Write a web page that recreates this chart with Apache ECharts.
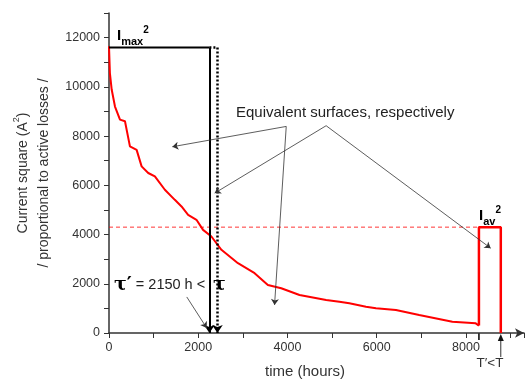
<!DOCTYPE html>
<html><head><meta charset="utf-8">
<script src="https://cdn.jsdelivr.net/npm/echarts@6/dist/echarts.min.js"></script>
<style>html,body{margin:0;padding:0;background:#fff}#c{width:527px;height:380px}</style>
</head><body><div id="c"></div>
<script>
// Load duration curve (time in hours, current squared in A^2)
const hours     = [0, 20, 60, 134, 246, 358, 469, 619, 731, 879, 1028, 1252, 1475, 1625, 1773, 1960, 2108, 2295, 2519, 2890, 3263, 3560, 3860, 4269, 4866, 5163, 5386, 5759, 5983, 6430, 6951, 7695, 8218, 8290];
const currentSq = [11650, 10560, 9890, 9200, 8670, 8600, 7580, 7440, 6770, 6500, 6360, 5820, 5410, 5140, 4800, 4600, 4190, 3920, 3380, 2835, 2430, 1953, 1820, 1546, 1342, 1273, 1208, 1070, 1004, 936, 732, 460, 393, 300];
const imax2 = 11600;     // I_max^2
const iav2 = 4300;       // I_av^2
const tauPrime = 2250;   // tau'
const tau = 2430;        // tau
const tPrime = 8290;     // T'
const tEnd = 8780;       // T
const xLabels = [0, 2000, 4000, 6000, 8000];
const yLabels = [0, 2000, 4000, 6000, 8000, 10000, 12000];
// annotation arrows [from, to] in data units
const arrowFrom = [[3972, 8392], [3972, 8392], [4866, 8421], [4866, 8421], [1743, 1464]];
const arrowTo   = [[1419, 7566], [3710, 1139], [2369, 5683], [8553, 3446], [2190, 203]];

const chart = echarts.init(document.getElementById('c'));
const font = 'Liberation Sans, Arial, sans-serif';
const axisCommon = {
  type: 'value', splitLine: {show: false},
  axisLine: {lineStyle: {color: '#333', width: 1.5}},
  axisTick: {length: 5, lineStyle: {color: '#333', width: 1}},
  axisLabel: {fontSize: 12.5, color: '#333', fontFamily: font}
};
chart.setOption({
  animation: false,
  grid: {left: 109, right: 2, top: 13, bottom: 47},
  xAxis: Object.assign({}, axisCommon, {
    min: 0, max: 9300, interval: 1000,
    axisLine: {lineStyle: {color: '#333', width: 1.5}, symbol: ['none', 'arrow'], symbolSize: [7, 9]},
    axisLabel: Object.assign({}, axisCommon.axisLabel, {margin: 8, formatter: v => xLabels.includes(v) ? String(v) : ''})
  }),
  yAxis: Object.assign({}, axisCommon, {
    min: 0, max: 13000, interval: 1000,
    axisLabel: Object.assign({}, axisCommon.axisLabel, {margin: 9, formatter: v => yLabels.includes(v) ? String(v) : ''}),
    name: 'Current square (A{sup|2})\n/ proportional to active losses /',
    nameLocation: 'middle', nameGap: 54, nameRotate: 90,
    nameTextStyle: {fontSize: 14, color: '#333', fontFamily: font, lineHeight: 21,
      rich: {sup: {fontSize: 9, verticalAlign: 'top', lineHeight: 21, color: '#333', fontFamily: font}}}
  }),
  series: [
    {type: 'line', data: hours.map((h, i) => [h, currentSq[i]]), symbol: 'none',
      lineStyle: {color: '#ff0000', width: 2}, z: 3},
    {type: 'line', data: [[tPrime, currentSq[currentSq.length - 1]], [tPrime, iav2], [tEnd, iav2], [tEnd, 0]], symbol: 'none',
      lineStyle: {color: '#ff0000', width: 2.5}, z: 3},
    {type: 'line', data: [[0, iav2], [tPrime, iav2]], symbol: 'none',
      lineStyle: {color: '#ff0000', width: 0.8, type: [4, 3]}, z: 2},
    {type: 'line', data: [[0, imax2], [tauPrime, imax2]], symbol: 'none',
      lineStyle: {color: '#000', width: 2}, z: 4},
    {type: 'line', data: [[tauPrime, imax2], [tau, imax2]], symbol: 'none',
      lineStyle: {color: '#000', width: 2.5, type: [2, 2]}, z: 4},
    {type: 'lines', coordinateSystem: 'cartesian2d', symbol: ['none', 'arrow'], symbolSize: 8,
      lineStyle: {color: '#000', width: 2, opacity: 1}, z: 4,
      data: [{coords: [[tauPrime, imax2], [tauPrime, 0]]}]},
    {type: 'lines', coordinateSystem: 'cartesian2d', symbol: ['none', 'arrow'], symbolSize: 8,
      lineStyle: {color: '#000', width: 2.5, type: [2, 2], opacity: 1}, z: 4,
      data: [{coords: [[tau, imax2], [tau, 0]]}]},
    {type: 'lines', coordinateSystem: 'cartesian2d', symbol: ['none', 'arrow'], symbolSize: 6,
      lineStyle: {color: '#333', width: 0.8, opacity: 1}, z: 5,
      data: arrowFrom.map((f, i) => ({coords: [f, arrowTo[i]]}))}
  ]
});

const pT = chart.convertToPixel({gridIndex: 0}, [tEnd, 0]);
const pTp = chart.convertToPixel({gridIndex: 0}, [tPrime, 0]);
const rich = {
  b: {fontSize: 15, fontWeight: 'bold', fontFamily: font, color: '#000', lineHeight: 22, verticalAlign: 'middle'},
  sub: {fontSize: 11, fontWeight: 'bold', fontFamily: font, color: '#000', lineHeight: 22, verticalAlign: 'bottom'},
  sup: {fontSize: 10, fontWeight: 'bold', fontFamily: font, color: '#000', lineHeight: 22, verticalAlign: 'top'}
};
chart.setOption({
  graphic: [
    {type: 'text', left: 117, top: 25, style: {text: '{b|I}{sub|max}{sup|2}', rich: rich}},
    {type: 'text', left: 479, top: 205, style: {text: '{b|I}{sub|av}{sup|2}', rich: rich}},
    {type: 'text', x: 236, y: 113, style: {text: 'Equivalent surfaces, respectively', font: '15px ' + font, fill: '#222', verticalAlign: 'middle'}},
    {type: 'text', x: 114, y: 285, style: {text: '{t|τ′} = 2150 h <', font: '14.5px ' + font, fill: '#222', verticalAlign: 'middle',
      rich: {t: {fontSize: 19, fontWeight: 'bold', fontFamily: 'DejaVu Serif, serif', fill: '#000'}}}},
    {type: 'text', x: 213, y: 285, style: {text: 'τ', font: 'bold 19px DejaVu Serif, serif', fill: '#000', verticalAlign: 'middle'}},
    {type: 'text', x: 305, y: 372, style: {text: 'time (hours)', font: '15px ' + font, fill: '#333', align: 'center', verticalAlign: 'middle'}},
    {type: 'text', x: 490, y: 363, style: {text: 'T′<T', font: '13.5px ' + font, fill: '#333', align: 'center', verticalAlign: 'middle'}},
    {type: 'line', shape: {x1: pT[0], y1: pT[1] + 24, x2: pT[0], y2: pT[1] + 6}, style: {stroke: '#333', lineWidth: 1}},
    {type: 'polygon', shape: {points: [[pT[0], pT[1] + 1], [pT[0] - 3, pT[1] + 8], [pT[0] + 3, pT[1] + 8]]}, style: {fill: '#111'}},
    {type: 'line', shape: {x1: pTp[0], y1: pTp[1], x2: pTp[0], y2: pTp[1] + 7}, style: {stroke: '#000', lineWidth: 1.5}}
  ]
});
</script></body></html>
